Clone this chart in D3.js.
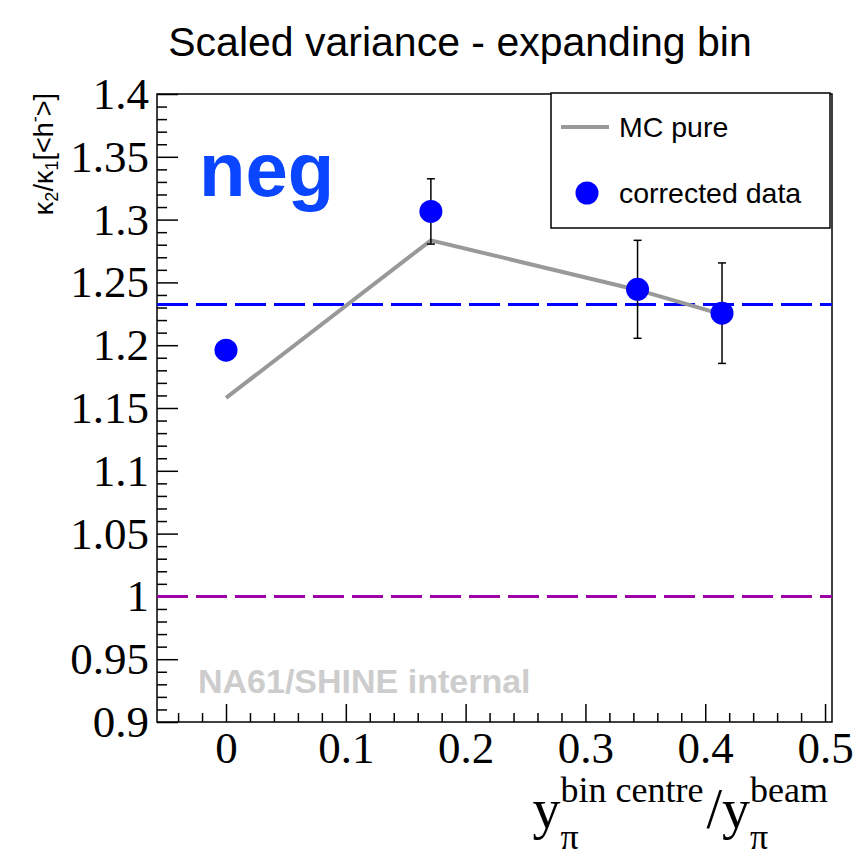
<!DOCTYPE html>
<html>
<head>
<meta charset="utf-8">
<script src="https://cdn.jsdelivr.net/npm/d3@7"></script>
<style>
  body { margin: 0; background: #fff; }
  svg { display: block; }
</style>
</head>
<body>
<div id="chart"></div>
<script>
// corrected data points: rapidity bin centre / beam rapidity
var dataX = [0, 0.171, 0.3435, 0.414];
var dataY = [1.196, 1.3065, 1.2445, 1.2255];
var dataErr = [0.003, 0.026, 0.039, 0.040];

// MC pure curve
var mcX = [0, 0.171, 0.3435, 0.414];
var mcY = [1.158, 1.2835, 1.244, 1.2245];

// reference lines
var meanLine = 1.2325;
var unityLine = 1;

// tick labels
var xTicks = [0, 0.1, 0.2, 0.3, 0.4, 0.5];
var yTicks = [0.9, 0.95, 1, 1.05, 1.1, 1.15, 1.2, 1.25, 1.3, 1.35, 1.4];

var width = 864;
var height = 863;

var svg = d3.select("#chart")
    .append("svg")
    .attr("width", width)
    .attr("height", height);

svg.append("rect")
    .attr("width", width)
    .attr("height", height)
    .attr("fill", "#fff");

var scalex = d3.scaleLinear()
    .domain([-0.0576, 0.5058])
    .range([157, 832]);

var scaley = d3.scaleLinear()
    .domain([0.9, 1.4])
    .range([722, 94]);

var serif = "'Liberation Serif', 'Times New Roman', serif";
var sans = "'Liberation Sans', Arial, Helvetica, sans-serif";

// minor ticks
var xMinor = d3.range(-0.04, 0.501, 0.02).filter((v) => {
    return !xTicks.some((t) => Math.abs(t - v) < 1e-6)
});
var yMinor = d3.range(0.9, 1.4001, 0.01).filter((v) => {
    return !yTicks.some((t) => Math.abs(t - v) < 1e-6)
});

// x axis (ticks inward)
var xAxisG = svg.append("g")
    .attr("transform", "translate(0," + scaley(0.9) + ")")
    .call(d3.axisBottom(scalex).tickValues(xTicks).tickSize(-18).tickPadding(9)
        .tickFormat((d) => String(d)));
xAxisG.select(".domain").remove();
xAxisG.selectAll("line").attr("stroke", "#000").attr("stroke-width", 1.5);
xAxisG.selectAll("text")
    .attr("font-family", serif)
    .attr("font-size", 45)
    .attr("fill", "#000");

var xMinorG = svg.append("g")
    .attr("transform", "translate(0," + scaley(0.9) + ")")
    .call(d3.axisBottom(scalex).tickValues(xMinor).tickSize(-9).tickFormat(""));
xMinorG.select(".domain").remove();
xMinorG.selectAll("line").attr("stroke", "#000").attr("stroke-width", 1.5);

// y axis (ticks inward)
var yAxisG = svg.append("g")
    .attr("transform", "translate(" + scalex.range()[0] + ",0)")
    .call(d3.axisLeft(scaley).tickValues(yTicks).tickSize(-21).tickPadding(8)
        .tickFormat((d) => String(+d.toFixed(2))));
yAxisG.select(".domain").remove();
yAxisG.selectAll("line").attr("stroke", "#000").attr("stroke-width", 1.5);
yAxisG.selectAll("text")
    .attr("font-family", serif)
    .attr("font-size", 45)
    .attr("fill", "#000");

var yMinorG = svg.append("g")
    .attr("transform", "translate(" + scalex.range()[0] + ",0)")
    .call(d3.axisLeft(scaley).tickValues(yMinor).tickSize(-10).tickFormat(""));
yMinorG.select(".domain").remove();
yMinorG.selectAll("line").attr("stroke", "#000").attr("stroke-width", 1.5);

// frame
svg.append("rect")
    .attr("x", scalex.range()[0])
    .attr("y", scaley.range()[1])
    .attr("width", scalex.range()[1] - scalex.range()[0])
    .attr("height", scaley.range()[0] - scaley.range()[1])
    .attr("fill", "none")
    .attr("stroke", "#000")
    .attr("stroke-width", 1.5);

// watermark
svg.append("text")
    .attr("x", 198)
    .attr("y", 693)
    .attr("font-family", sans)
    .attr("font-weight", "bold")
    .attr("font-size", 34)
    .attr("fill", "#cdcdcd")
    .text("NA61/SHINE internal");

// horizontal dashed lines
svg.append("line")
    .attr("x1", scalex.range()[0]).attr("x2", scalex.range()[1])
    .attr("y1", scaley(unityLine)).attr("y2", scaley(unityLine))
    .attr("stroke", "#a000a8")
    .attr("stroke-width", 3)
    .attr("stroke-dasharray", "31 8");

svg.append("line")
    .attr("x1", scalex.range()[0]).attr("x2", scalex.range()[1])
    .attr("y1", scaley(meanLine)).attr("y2", scaley(meanLine))
    .attr("stroke", "#0000ff")
    .attr("stroke-width", 3)
    .attr("stroke-dasharray", "31 8");

// MC line
var line = d3.line()
    .x((d, i) => scalex(mcX[i]))
    .y((d) => scaley(d));

svg.append("path")
    .datum(mcY)
    .attr("d", line)
    .attr("fill", "none")
    .attr("stroke", "#999999")
    .attr("stroke-width", 4);

// error bars
var pts = dataX.map((x, i) => ({ x: x, y: dataY[i], e: dataErr[i] }));

var errG = svg.append("g").attr("stroke", "#000").attr("stroke-width", 1.5);
pts.forEach((d) => {
    if (d.e < 0.01) return;
    var cx = scalex(d.x);
    errG.append("line")
        .attr("x1", cx).attr("x2", cx)
        .attr("y1", scaley(d.y + d.e)).attr("y2", scaley(d.y - d.e));
    errG.append("line")
        .attr("x1", cx - 4).attr("x2", cx + 4)
        .attr("y1", scaley(d.y + d.e)).attr("y2", scaley(d.y + d.e));
    errG.append("line")
        .attr("x1", cx - 4).attr("x2", cx + 4)
        .attr("y1", scaley(d.y - d.e)).attr("y2", scaley(d.y - d.e));
});

svg.selectAll("circle.pt")
    .data(pts)
    .enter()
    .append("circle")
    .attr("class", "pt")
    .attr("cx", (d) => scalex(d.x))
    .attr("cy", (d) => scaley(d.y))
    .attr("r", 11.5)
    .attr("fill", "#0000ff");

// "neg" label
svg.append("text")
    .attr("x", 199)
    .attr("y", 196)
    .attr("font-family", sans)
    .attr("font-weight", "bold")
    .attr("font-size", 76)
    .attr("fill", "#0a46ff")
    .text("neg");

// legend
var leg = svg.append("g");
leg.append("rect")
    .attr("x", 551).attr("y", 93)
    .attr("width", 279).attr("height", 135)
    .attr("fill", "#fff")
    .attr("stroke", "#000")
    .attr("stroke-width", 1.5);
leg.append("line")
    .attr("x1", 561).attr("x2", 609)
    .attr("y1", 127).attr("y2", 127)
    .attr("stroke", "#999999")
    .attr("stroke-width", 4);
leg.append("text")
    .attr("x", 619).attr("y", 137)
    .attr("font-family", sans)
    .attr("font-size", 28.5)
    .text("MC pure");
leg.append("circle")
    .attr("cx", 587).attr("cy", 193)
    .attr("r", 11.5)
    .attr("fill", "#0000ff");
leg.append("text")
    .attr("x", 619).attr("y", 203)
    .attr("font-family", sans)
    .attr("font-size", 28.5)
    .text("corrected data");

// title
svg.append("text")
    .attr("x", 460)
    .attr("y", 56)
    .attr("text-anchor", "middle")
    .attr("font-family", sans)
    .attr("font-size", 41)
    .text("Scaled variance - expanding bin");

// y axis title: kappa2/kappa1[<h->]
var yt = svg.append("text")
    .attr("transform", "translate(53,93) rotate(-90)")
    .attr("text-anchor", "end")
    .attr("font-family", sans)
    .attr("font-size", 27);
yt.append("tspan").text("κ");
yt.append("tspan").attr("font-size", 18).attr("dy", 5).text("2");
yt.append("tspan").attr("dy", -5).text("/κ");
yt.append("tspan").attr("font-size", 18).attr("dy", 5).text("1");
yt.append("tspan").attr("dy", -5).text("[<h");
yt.append("tspan").attr("font-size", 18).attr("dy", -12).text("-");
yt.append("tspan").attr("dy", 12).text(">]");

// x axis title: y_pi^{bin centre} / y_pi^{beam}
var xt = svg.append("g").attr("font-family", serif);
var cursor = 0;
function addScript(main, sup, sub) {
    var m = xt.append("text").attr("x", cursor).attr("y", 0)
        .attr("font-size", 56).text(main);
    cursor += m.node().getComputedTextLength();
    var s1 = xt.append("text").attr("x", cursor).attr("y", -26)
        .attr("font-size", 36).text(sup);
    var s2 = xt.append("text").attr("x", cursor).attr("y", 21)
        .attr("font-size", 36).text(sub);
    cursor += Math.max(s1.node().getComputedTextLength(), s2.node().getComputedTextLength()) + 3;
}
addScript("y", "bin centre", "π");
var slash = xt.append("text").attr("x", cursor).attr("y", 0)
    .attr("font-size", 56).text("/");
cursor += slash.node().getComputedTextLength();
addScript("y", "beam", "π");
xt.attr("transform", "translate(" + (831 - cursor) + ",828)");
</script>
</body>
</html>
